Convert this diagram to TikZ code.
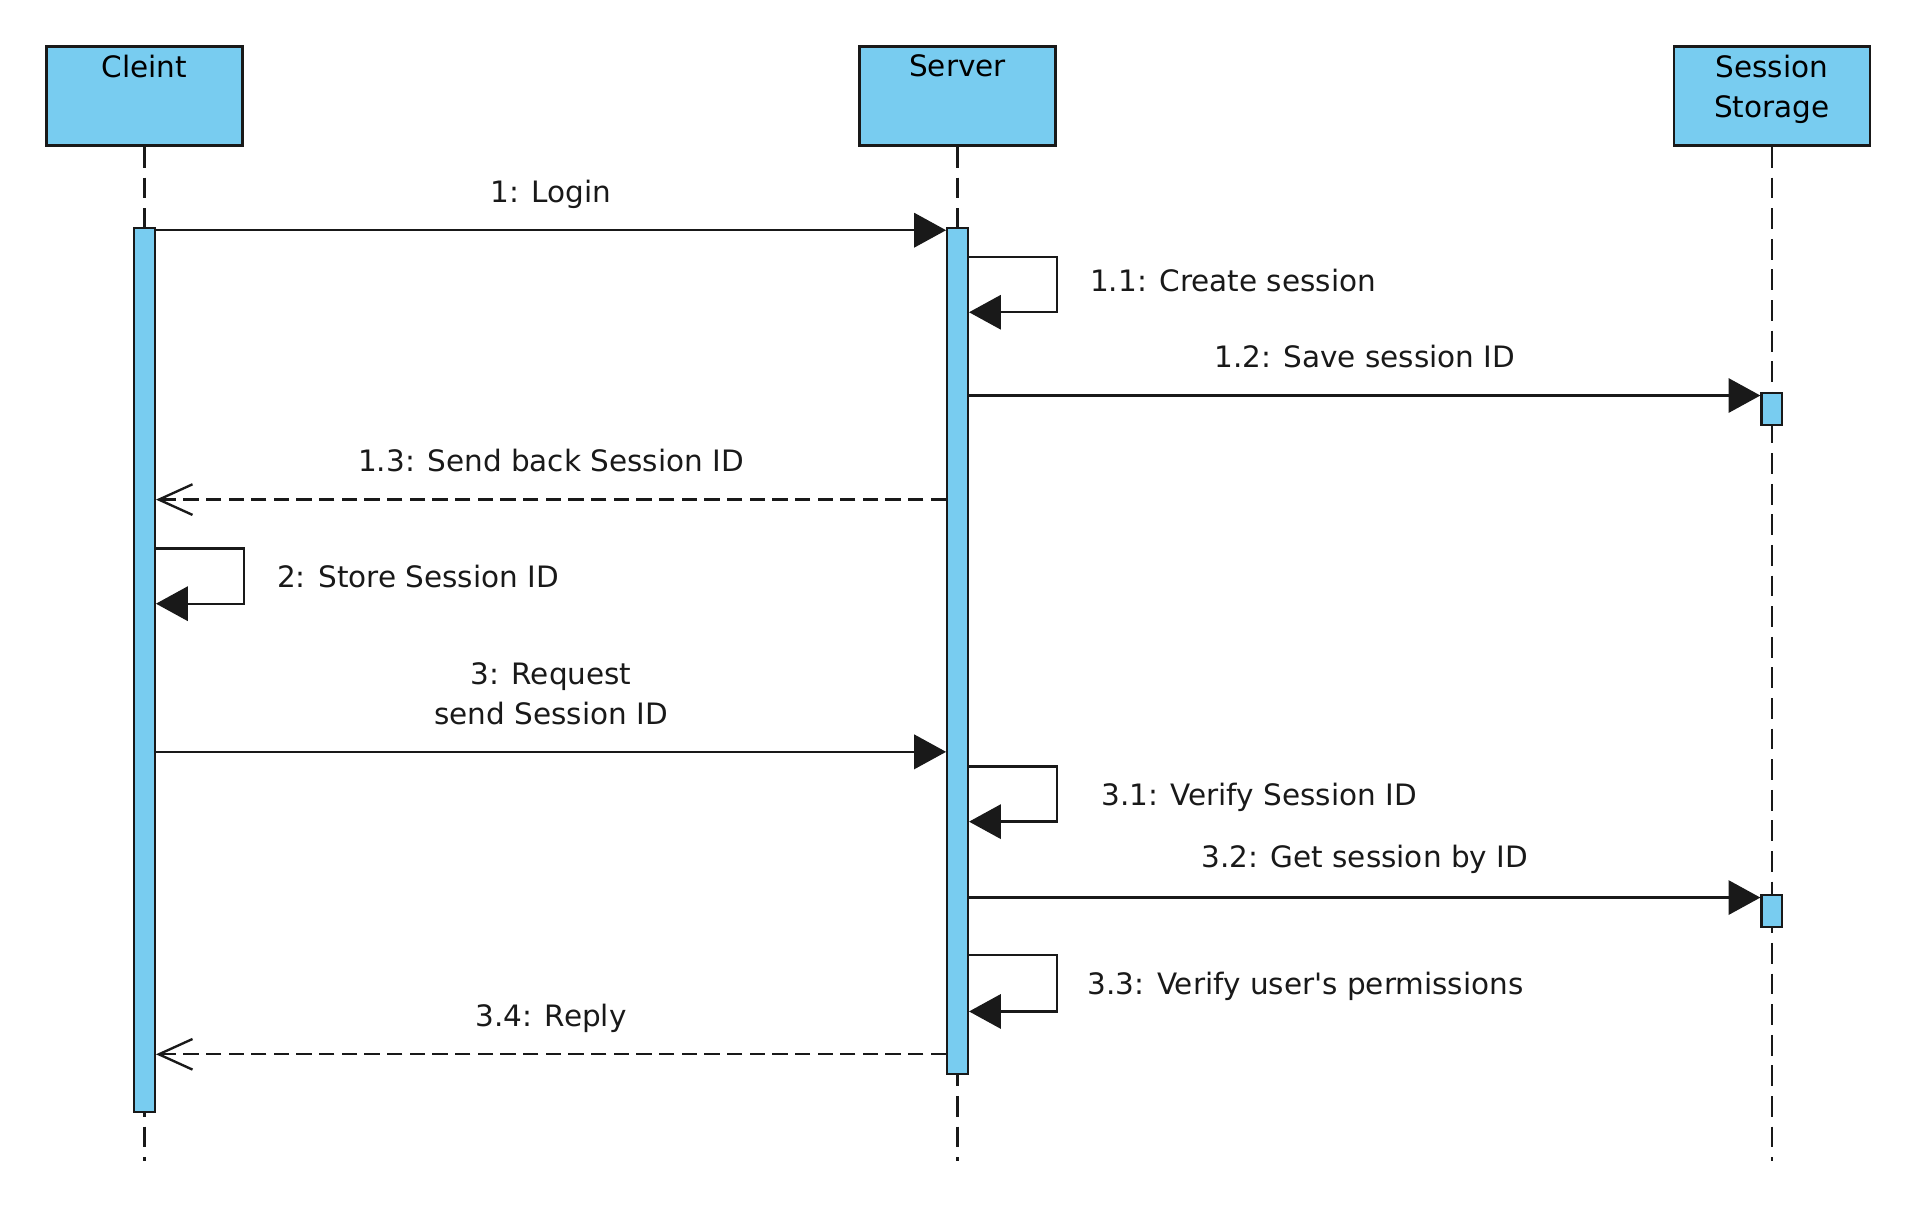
\documentclass[tikz,border=0pt]{standalone}
\usepackage{fontspec}
\setmainfont{DejaVu Sans}[Ligatures=TeXOff]
\usetikzlibrary{arrows.meta,positioning}
\definecolor{umlblue}{RGB}{120,204,240}
\definecolor{umlline}{RGB}{25,25,25}

\begin{document}
\begin{tikzpicture}[
    every node/.style={font=\fontsize{13.7}{18.7}\selectfont},
    head/.style={rectangle,draw=umlline,fill=umlblue,line width=1.2pt,
      minimum width=3.2cm,minimum height=1.62cm,inner sep=0pt},
    headtext/.style={anchor=north,inner sep=0pt,align=center},
    bar/.style={rectangle,draw=umlline,fill=umlblue,line width=1pt,
      minimum width=0.34cm,inner sep=0pt},
    life/.style={umlline,line width=1pt,dash pattern=on 0.34cm off 0.16cm},
    call/.style={-{Triangle[length=0.52cm,width=0.56cm]},umlline,line width=1.1pt},
    reply/.style={-{Straight Barb[length=0.55cm,width=0.5cm]},umlline,line width=1.1pt,
      dash pattern=on 0.25cm off 0.12cm},
    lbl/.style={inner sep=0pt,text depth=0pt,align=center}
  ]
    \useasboundingbox (0,0) rectangle (31.36,-19.88);
    % participants
    \node[head] (client) at (2.36,-1.57) {};
    \node[head] (server) at (15.64,-1.57) {};
    \node[head] (store) at (28.94,-1.57) {};
    \node[headtext] (client-t) at ([yshift=-0.15cm]client.north) {Cleint};
    \node[headtext] (server-t) at ([yshift=-0.15cm]server.north) {Server};
    \node[headtext] (store-t) at ([yshift=-0.15cm]store.north) {Session\\Storage};
    % lifelines
    \coordinate (bottom) at (0,-18.96);
    \draw[life] (client.south) -- (client.south |- bottom);
    \draw[life] (server.south) -- (server.south |- bottom);
    \draw[life] (store.south) -- (store.south |- bottom);
    % activations
    \node[bar,minimum height=14.44cm] (cbar) at (2.36,-10.94) {};
    \node[bar,minimum height=13.82cm] (sbar) at (15.64,-10.63) {};
    \node[bar,minimum height=0.52cm] (tbar1) at (28.94,-6.68) {};
    \node[bar,minimum height=0.52cm] (tbar2) at (28.94,-14.88) {};
    % message levels
    \coordinate (m1) at (0,-3.76);
    \coordinate (m11) at (0,-4.2);
    \coordinate (m12) at (0,-6.46);
    \coordinate (m13) at (0,-8.16);
    \coordinate (m2) at (0,-8.96);
    \coordinate (m3) at (0,-12.28);
    \coordinate (m31) at (0,-12.52);
    \coordinate (m32) at (0,-14.66);
    \coordinate (m33) at (0,-15.6);
    \coordinate (m34) at (0,-17.22);
    % messages
    \draw[call] (cbar.east |- m1) -- node[lbl,above=0.44cm] {1: Login} (sbar.west |- m1);
    \draw[call] (sbar.east |- m11) -- ++(1.44,0)
      |- node[lbl,pos=0.25,right=0.52cm,yshift=0.07cm] {1.1: Create session} ++(-1.44,-0.9);
    \draw[call] (sbar.east |- m12) -- node[lbl,above=0.44cm] {1.2: Save session ID} (tbar1.west |- m12);
    \draw[reply] (sbar.west |- m13) -- node[lbl,above=0.44cm] {1.3: Send back Session ID} (cbar.east |- m13);
    \draw[call] (cbar.east |- m2) -- ++(1.44,0)
      |- node[lbl,pos=0.25,right=0.52cm] {2: Store Session ID} ++(-1.44,-0.9);
    \draw[call] (cbar.east |- m3) -- node[lbl,above=0.42cm] {3: Request\\send Session ID} (sbar.west |- m3);
    \draw[call] (sbar.east |- m31) -- ++(1.44,0)
      |- node[lbl,pos=0.25,right=0.7cm] {3.1: Verify Session ID} ++(-1.44,-0.9);
    \draw[call] (sbar.east |- m32) -- node[lbl,above=0.48cm] {3.2: Get session by ID} (tbar2.west |- m32);
    \draw[call] (sbar.east |- m33) -- ++(1.44,0)
      |- node[lbl,pos=0.25,right=0.48cm] {3.3: Verify user's permissions} ++(-1.44,-0.92);
    \draw[reply] (sbar.west |- m34) -- node[lbl,above=0.44cm] {3.4: Reply} (cbar.east |- m34);
  \end{tikzpicture}
\end{document}
